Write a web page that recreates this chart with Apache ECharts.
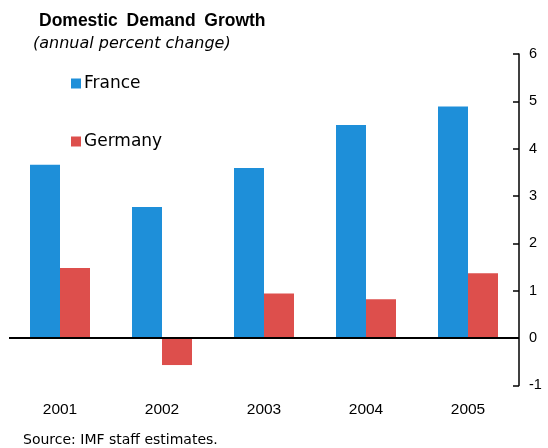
<!DOCTYPE html>
<html>
<head>
<meta charset="utf-8">
<script src="https://cdn.jsdelivr.net/npm/echarts@6/dist/echarts.min.js"></script>
<style>
  html, body { margin: 0; padding: 0; background: #fff; }
  #chart { width: 548px; height: 448px; }
</style>
</head>
<body>
<div id="chart"></div>
<script>
// Domestic demand growth, annual percent change
var years = ['2001', '2002', '2003', '2004', '2005'];
var france = [3.66, 2.77, 3.59, 4.5, 4.89];
var germany = [1.48, -0.57, 0.94, 0.82, 1.37];
var yTicks = { min: -1, max: 6, step: 1 };

var FONT = '"Liberation Sans", Arial, sans-serif';
var WIDE = '"DejaVu Sans", sans-serif';
var chart = echarts.init(document.getElementById('chart'), null, { renderer: 'canvas' });

chart.setOption({
  animation: false,
  backgroundColor: '#ffffff',
  title: [
    {
      text: 'Domestic\u2002Demand\u2002Growth',
      left: 39, top: 12, padding: 0,
      textStyle: { fontFamily: FONT, fontSize: 17.5, fontWeight: 'bold', color: '#000' }
    },
    {
      text: '(annual percent change)',
      left: 33, top: 36, padding: 0,
      textStyle: { fontFamily: WIDE, fontSize: 16, fontStyle: 'italic', fontWeight: 'normal', color: '#000' }
    },
    {
      text: 'Source: IMF staff estimates.',
      left: 23, top: 433, padding: 0,
      textStyle: { fontFamily: WIDE, fontSize: 14, fontWeight: 'normal', color: '#000' }
    }
  ],
  legend: {
    orient: 'vertical',
    left: 71, top: 75, padding: 0,
    itemWidth: 10, itemHeight: 10,
    itemGap: 41,
    icon: 'rect',
    textStyle: { fontFamily: WIDE, fontSize: 17, color: '#000', padding: [0, 0, 0, -2] },
    data: ['France', 'Germany']
  },
  grid: { left: 9, right: 29, top: 54, bottom: 62.6, containLabel: false },
  xAxis: {
    type: 'category',
    data: years,
    position: 'bottom',
    axisLine: { show: false, onZero: false },
    axisTick: { show: false },
    axisLabel: { fontFamily: FONT, fontSize: 15.5, color: '#000', margin: 16 },
    splitLine: { show: false }
  },
  yAxis: {
    type: 'value',
    position: 'right',
    min: yTicks.min, max: yTicks.max, interval: yTicks.step,
    axisLine: { show: true, lineStyle: { color: '#000', width: 1.5 } },
    axisTick: { show: true, inside: true, length: 6, lineStyle: { color: '#000', width: 1.5 } },
    axisLabel: { fontFamily: FONT, fontSize: 14.5, color: '#000', margin: 10 },
    splitLine: { show: false }
  },
  series: [
    {
      name: 'France',
      type: 'bar',
      data: france,
      barWidth: 30,
      barGap: '0%',
      itemStyle: { color: '#1E8FD9' },
      markLine: {
        silent: true,
        symbol: 'none',
        label: { show: false },
        lineStyle: { color: '#000', width: 2, type: 'solid' },
        data: [{ yAxis: 0 }]
      }
    },
    {
      name: 'Germany',
      type: 'bar',
      data: germany,
      barWidth: 30,
      barGap: '0%',
      itemStyle: { color: '#DD4F4C' }
    }
  ]
});
</script>
</body>
</html>
